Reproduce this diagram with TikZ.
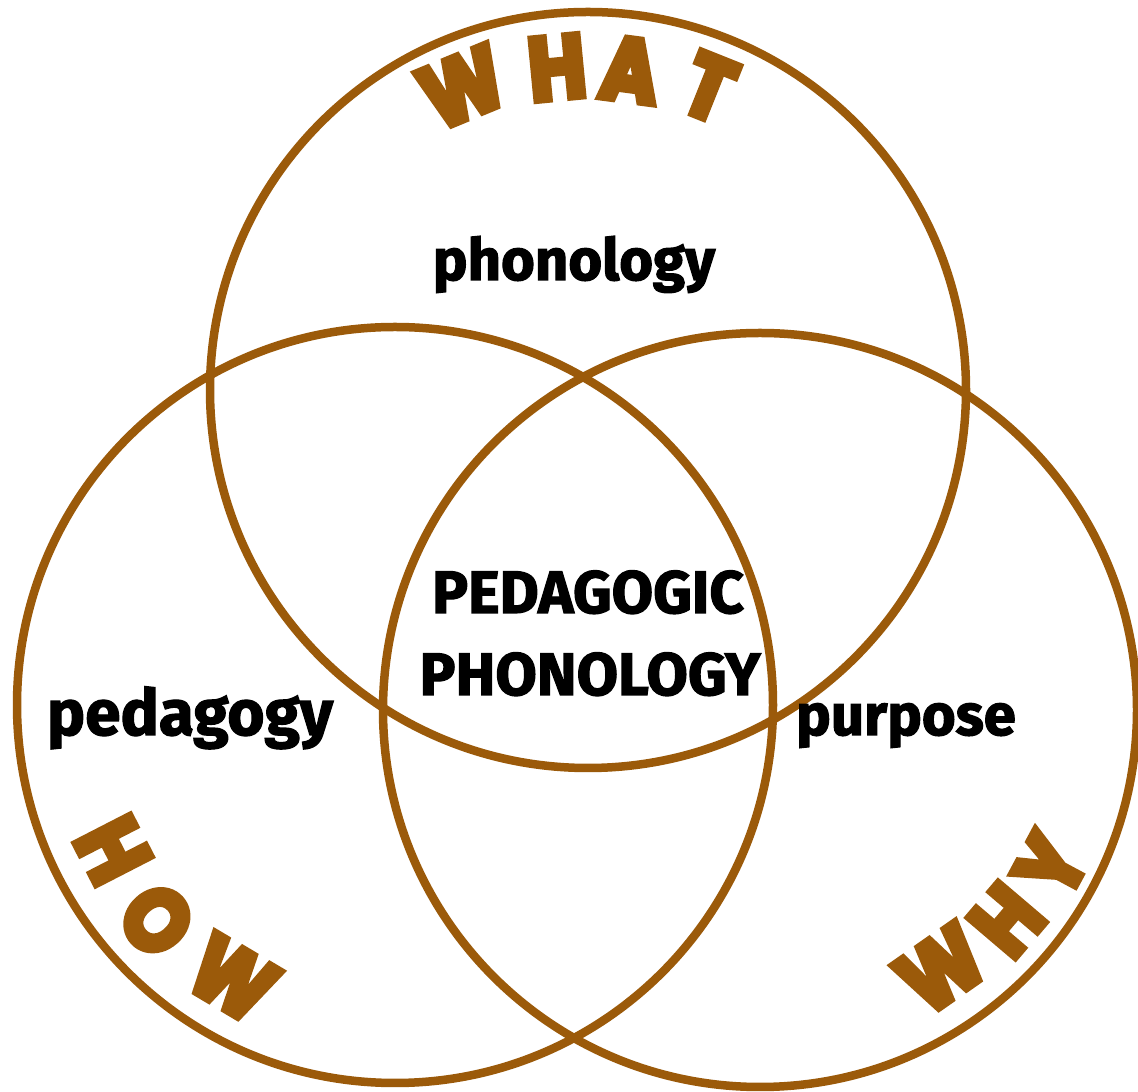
\documentclass[tikz,border=0pt]{standalone}
\usepackage{fontspec}
\setmainfont{Fira Sans}
\newfontfamily\capfont{Poppins}
\definecolor{venn}{RGB}{155,90,10}
\newcommand\heavyletter[1]{\scalebox{0.88}[1]{\special{pdf:code 2 Tr 7 w 0 j 2 M}#1\special{pdf:code 0 Tr}}}
\newcommand\firmtext[1]{\special{pdf:code 2 Tr 1.2 w 0 j 2 M}#1\special{pdf:code 0 Tr}}
\begin{document}
\begin{tikzpicture}[x=1pt,y=1pt,
  ring/.style={draw=venn, line width=8.5pt},
  lbl/.style={font=\fontsize{58}{60}\selectfont\bfseries, text=black, inner sep=0pt, anchor=base},
  caps/.style={font=\fontsize{60}{60}\selectfont\bfseries, text=black, inner sep=0pt, anchor=base},
  big/.style={font=\capfont\fontsize{88}{88}\selectfont\bfseries, text=venn, inner sep=0pt}]
\useasboundingbox (0,0) rectangle (1138,1092);
\coordinate (cT) at (588,702);
\coordinate (cL) at (395,387);
\coordinate (cR) at (760,382);
\draw[ring] (cT) circle[radius=378pt];
\draw[ring] (cL) circle[radius=378pt];
\draw[ring] (cR) circle[radius=377pt];
% texts
\node[lbl] (phon) at (574,812) {\firmtext{phonology}};
\node[lbl, font=\fontsize{64}{64}\selectfont\bfseries] (ped) at (190,357) {\firmtext{pedagogy}};
\node[lbl] (pur) at (906,357) {\firmtext{purpose}};
\node[caps] (pp1) at (588,479) {\firmtext{PEDAGOGIC}};
\node[caps] (pp2) at (590,397) {\firmtext{PHONOLOGY}};
% WHAT
\node[big, rotate=22.5] (wa1) at ([shift={(112.5:328pt)}]cT) {\heavyletter{W}};
\node[big, rotate=5.5] (wa2) at ([shift={(95.5:324pt)}]cT) {\heavyletter{H}};
\node[big, rotate=-7.5] (wa3) at ([shift={(82.5:323pt)}]cT) {\heavyletter{A}};
\node[big, rotate=-21.8] (wa4) at ([shift={(68.2:326pt)}]cT) {\heavyletter{T}};
% HOW
\node[big, rotate=297.2] (ho1) at ([shift={(207.2:317pt)}]cL) {\heavyletter{H}};
\node[big, rotate=312.1] (ho2) at ([shift={(222.1:321pt)}]cL) {\heavyletter{O}};
\node[big, rotate=329.3] (ho3) at ([shift={(239.3:318pt)}]cL) {\heavyletter{W}};
% WHY
\node[big, rotate=35] (wy1) at ([shift={(-55:316pt)}]cR) {\heavyletter{W}};
\node[big, rotate=49.6] (wy2) at ([shift={(-40.4:324pt)}]cR) {\heavyletter{H}};
\node[big, rotate=61.8] (wy3) at ([shift={(-28.2:330pt)}]cR) {\heavyletter{Y}};
\end{tikzpicture}
\end{document}
